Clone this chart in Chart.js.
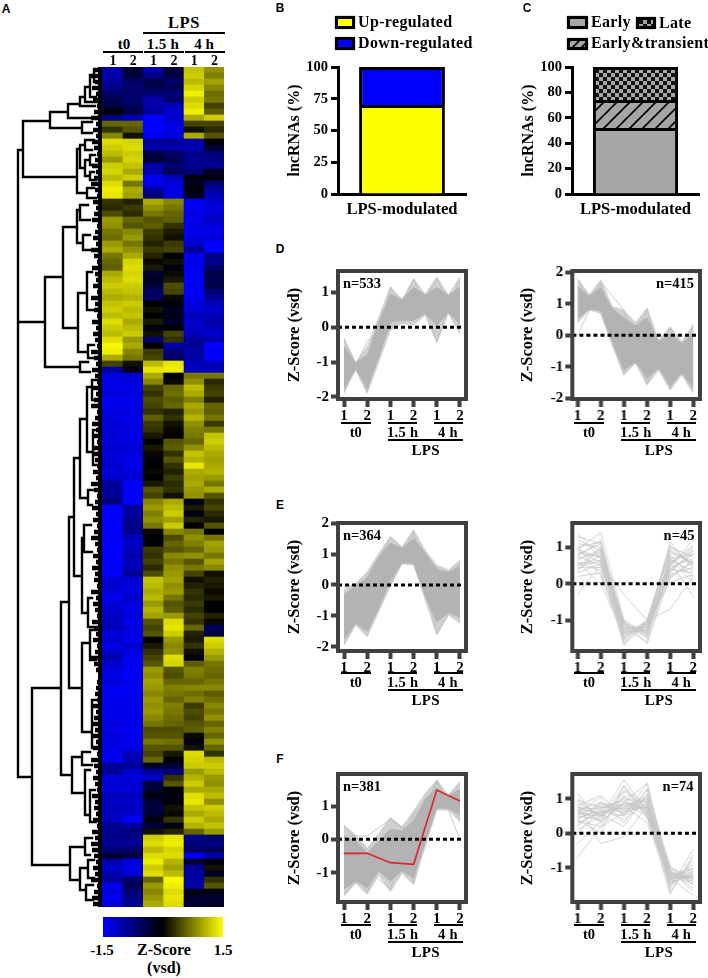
<!DOCTYPE html>
<html>
<head>
<meta charset="utf-8">
<script src="https://cdn.jsdelivr.net/npm/chart.js@4"></script>
<style>
  html, body { margin: 0; padding: 0; background: #fff; }
  #page { position: relative; width: 708px; height: 978px; overflow: hidden; font-family: "Liberation Serif", serif; font-weight: bold; color: #000; }
  canvas { position: absolute; }
  .txt { position: absolute; white-space: nowrap; transform: translate(-50%, -50%); line-height: 1; }
  .rule { position: absolute; height: 2px; background: #000; }
  .swatch { position: absolute; box-sizing: border-box; border: 3px solid #000; box-shadow: 0 0 1px #555; }
</style>
</head>
<body>
<div id="page"></div>
<script>
// heatmap values, one list per sample, top row first
const heatT0a = [
  -1.0,-1.0,-0.9,-0.8,-0.6,-0.5,-0.4,0.0,-0.8,0.6,
  0.3,0.8,1.3,1.2,1.1,0.9,1.2,1.25,1.1,1.3,
  1.4,1.35,0.3,0.25,0.45,0.9,0.85,0.7,0.65,0.9,
  1.0,0.7,0.6,0.55,1.0,1.1,1.2,1.1,1.0,1.15,
  1.2,1.1,1.3,1.2,1.1,1.3,1.45,1.4,1.0,0.4,
  -0.9,-1.3,-1.4,-1.35,-1.3,-1.4,-1.4,-1.3,-1.3,-1.25,
  -1.3,-1.25,-1.3,-1.2,-1.3,-1.25,-1.2,-1.3,-1.2,-0.9,
  -0.9,-0.85,-0.7,-1.5,-1.5,-1.45,-1.5,-1.5,-1.45,-1.5,
  -1.5,-1.45,-1.5,-1.45,-1.5,-1.25,-1.2,-1.3,-1.4,-1.25,
  -1.2,-1.15,-1.1,-1.1,-1.3,-1.2,-1.35,-1.2,-1.0,-1.2,
  -1.3,-1.35,-1.3,-1.4,-1.45,-1.4,-1.35,-1.4,-1.4,-1.3,
  -1.35,-1.3,-1.3,-1.35,-1.4,-1.4,-0.9,-0.9,-1.3,-1.2,
  -1.3,-1.1,-1.15,-1.1,-1.15,-1.1,-0.85,-0.8,-0.8,-0.9,
  -0.7,-0.3,-1.0,-1.2,-1.0,-0.9,-1.4,-1.3,-1.4,-1.3
];
const heatT0b = [
  -0.3,-0.35,-0.6,-0.65,-0.6,-0.65,-0.5,-0.4,-1.1,0.6,
  0.5,0.1,1.25,1.3,1.2,1.25,1.15,1.0,1.2,0.7,
  1.0,0.95,0.2,0.35,0.25,0.6,0.5,0.8,0.9,0.7,
  0.85,1.0,1.25,1.3,1.25,1.3,1.2,1.15,1.05,1.2,
  1.1,1.15,1.0,1.1,1.2,0.9,1.0,0.8,0.7,0.1,
  -0.1,-1.25,-1.3,-1.35,-1.3,-1.4,-1.35,-1.3,-1.4,-1.35,
  -1.3,-1.35,-1.3,-1.25,-1.3,-1.35,-1.4,-1.3,-1.25,-1.5,
  -1.5,-1.5,-1.5,-0.9,-0.95,-0.85,-0.8,-0.8,-1.1,-1.15,
  -1.1,-1.0,-1.1,-1.05,-0.85,-1.25,-1.3,-1.3,-1.2,-1.3,
  -1.35,-1.3,-1.4,-1.3,-1.35,-1.4,-1.2,-1.3,-1.4,-1.45,
  -1.45,-1.5,-1.4,-1.45,-1.4,-1.35,-1.4,-1.4,-1.35,-1.35,
  -1.4,-1.35,-1.4,-1.35,-1.1,-1.05,-0.9,-1.2,-1.3,-1.2,
  -1.25,-1.1,-1.2,-1.1,-1.2,-1.5,-0.9,-0.7,-0.8,-0.9,
  -0.6,-0.4,-1.3,-1.35,-1.25,-0.6,-0.5,-0.7,-0.8,-0.85
];
const heat15a = [
  -1.0,-0.8,-0.4,-0.5,-0.7,-1.0,-1.0,-0.9,-1.5,-1.5,
  -1.5,-1.4,-0.9,-1.0,-0.4,-0.3,-1.0,-1.05,-1.4,-1.4,
  -0.9,-0.7,1.0,0.85,0.7,0.5,0.55,0.35,0.3,0.2,
  0.35,0.2,0.05,0.15,-0.3,-0.2,-0.35,-0.6,-0.55,0.0,
  0.1,-0.05,0.15,-0.1,0.1,-0.6,0.0,0.35,0.4,1.1,
  1.35,1.0,0.8,0.4,0.3,0.45,0.4,0.3,0.55,0.35,
  0.3,0.15,0.0,0.15,0.05,-0.05,0.0,0.05,-0.05,0.15,
  0.5,0.4,0.8,0.9,0.75,0.85,0.7,0.05,-0.05,0.0,
  0.35,0.3,0.4,0.25,0.45,1.15,1.1,1.0,1.1,0.9,
  1.05,0.95,0.5,0.4,0.5,0.0,0.15,0.3,0.4,0.5,
  0.9,0.85,0.95,0.9,0.8,0.9,0.85,0.9,0.8,0.7,
  0.45,0.5,0.7,0.5,0.4,0.6,-0.2,-0.9,-1.2,-0.4,
  -0.3,-0.1,-0.3,-0.4,-0.3,-0.1,-0.35,0.1,1.2,1.3,
  1.1,1.3,1.4,1.2,1.3,0.6,0.9,0.8,0.9,1.0
];
const heat15b = [
  -0.35,-0.4,-0.6,-0.5,-0.7,-0.6,-1.1,-1.2,-1.2,-1.3,
  -1.35,-1.3,-0.9,-1.0,-0.6,-0.5,-0.7,-0.5,-1.1,-1.3,
  -1.35,-1.3,0.8,0.7,0.6,0.55,0.3,0.15,0.1,0.35,
  0.4,0.0,0.1,-0.1,0.05,0.15,0.45,0.4,0.05,-0.1,
  -0.2,-0.15,-0.25,-0.05,0.4,0.3,-1.0,-0.7,-0.6,1.35,
  1.4,0.0,0.05,0.6,0.65,0.55,0.6,0.2,0.3,0.1,
  0.05,0.0,0.5,0.55,0.3,0.5,0.3,0.2,0.35,0.25,
  0.3,0.1,1.0,1.1,1.2,0.95,1.2,0.8,0.45,0.6,
  0.5,0.8,0.7,0.85,0.9,0.95,0.85,0.9,0.7,0.5,
  0.55,0.9,1.3,1.35,1.2,0.9,0.8,0.85,1.3,1.25,
  0.5,0.45,0.6,0.75,0.7,0.6,0.75,0.7,0.65,0.6,
  0.45,0.5,0.65,0.5,0.15,0.0,-0.3,-0.7,0.3,0.5,
  0.0,-0.1,-0.05,0.1,0.05,0.3,-0.1,0.2,1.35,1.4,
  1.25,1.3,1.05,0.95,1.1,1.45,1.4,1.3,1.35,1.3
];
const heat4a = [
  1.15,1.2,1.1,1.25,1.4,1.2,1.3,1.4,1.0,0.4,
  0.1,1.0,-1.0,-1.05,-0.8,-0.85,-0.8,-0.7,-0.1,-0.15,
  -0.05,-0.2,-1.4,-1.45,-1.35,-1.4,-1.35,-1.4,-1.3,-1.2,
  -0.9,-1.4,-1.35,-1.4,-1.45,-1.5,-1.4,-1.45,-1.4,-1.3,
  -1.25,-1.1,-1.2,-1.15,-1.1,-0.9,-0.9,-1.0,-0.95,-1.1,
  -1.1,0.7,0.85,1.1,1.0,0.75,1.0,0.9,1.05,0.85,
  0.75,0.7,0.6,0.85,1.15,1.05,1.35,1.0,0.95,1.0,
  0.9,0.85,-0.1,0.15,-0.1,0.2,0.0,0.7,0.85,0.75,
  0.6,0.85,0.5,0.7,0.4,0.1,0.2,0.3,0.25,0.35,
  0.25,0.4,0.3,0.6,0.2,0.15,0.3,0.1,-0.1,0.55,
  0.75,0.7,0.6,0.8,0.65,0.75,0.35,0.45,0.4,0.5,
  0.55,0.05,-0.1,0.1,1.3,1.25,1.2,0.9,1.05,1.2,
  1.0,1.3,1.35,1.15,1.0,1.2,1.05,0.6,-0.8,-0.7,
  -0.6,-1.4,-0.3,-0.9,-0.95,-0.9,-1.0,-0.1,-0.25,-0.3
];
const heat4b = [
  0.85,0.75,0.95,0.8,0.65,0.7,0.4,0.55,1.2,0.4,
  0.25,0.5,-0.1,-0.3,-0.7,-0.8,-0.9,-0.2,-0.1,-0.7,
  -0.95,-1.1,-1.2,-1.3,-1.25,-1.15,-1.3,-1.35,-1.25,-1.5,
  -1.5,-0.8,-0.85,-0.6,-0.4,-0.5,-0.4,-0.7,-0.9,-1.1,
  -1.2,-1.1,-1.0,-1.1,-1.2,-1.05,-1.5,-1.45,-1.5,-1.1,
  -1.1,0.7,0.25,0.35,0.4,0.2,0.6,0.55,0.7,0.35,
  0.7,1.15,1.2,1.1,1.0,0.95,1.0,1.05,0.9,0.7,
  1.0,0.5,0.3,0.4,0.25,0.15,0.5,0.0,0.7,0.95,
  0.9,0.7,0.95,0.8,0.1,0.2,0.15,0.05,0.15,0.0,
  -0.05,0.2,0.05,-0.5,-0.4,1.3,1.2,1.05,0.9,0.7,
  0.65,0.6,0.7,0.8,0.55,0.65,0.8,0.7,0.85,0.6,
  0.75,0.6,0.85,0.6,0.3,1.1,1.2,1.1,0.9,0.85,
  1.0,1.1,0.85,1.2,1.1,1.0,1.15,0.9,-0.6,-0.8,
  -0.5,-1.0,-0.1,0.1,-0.2,0.3,0.5,-0.1,-0.3,-0.25
];
const colorbarStops = [-1.5,0,1.5];

// dendrogram merges: distance of the merge, the two child positions, the two child distances
const mergeDist  = [18,18,23,50,82,68,80,85,90,94,77,80,85,85,90,90,87,45,63,77,80,83,78,87,88,80,32,61,69,74,80,87,92,93,88,82,84,88,82,90,92,72,82,85,90,70,85,80,88,86];
const mergeTop   = [150,322,121,112,122,104,97,87,75,70,149,145,140,160,155,172,188,277,227,210,205,235,293,272,345,362,688,602,517,458,419,387,380,430,490,538,525,598,643,630,700,757,752,770,790,847,838,868,860,885];
const mergeBot   = [322,777,177,128,133,118,106,102,97,82,193,168,150,176,165,180,198,367,328,243,220,250,352,310,358,372,865,775,688,576,498,452,400,465,505,613,552,627,732,660,748,793,765,815,822,880,855,890,878,900];
const mergeTopTo = [23,18,50,68,92,80,85,90,94,97,80,85,94,90,95,94,94,63,77,80,88,90,87,92,94,88,61,69,74,80,87,92,97,97,94,84,91,92,90,97,97,82,90,90,95,85,92,88,94,93];
const mergeBotTo = [45,32,77,82,92,93,95,97,96,97,87,85,92,90,96,96,96,80,78,83,90,92,88,93,94,90,70,72,82,82,88,93,97,97,92,88,92,93,92,96,97,85,92,90,96,80,90,86,94,93];
// leaf spikes, one per heatmap row
const leafTips = [
  93,91,95,92,96,93,97,94,91,96,
  93,96,92,94,97,95,92,96,94,91,
  95,97,93,96,94,92,97,95,93,96,
  91,94,97,92,95,96,93,97,91,95,
  94,97,92,96,93,95,97,91,94,96,
  92,95,97,93,96,94,91,97,95,92,
  96,93,97,94,92,95,97,93,96,91,
  94,97,95,92,96,93,97,94,91,95,
  97,93,96,92,95,94,97,91,96,93,
  95,97,92,94,96,93,97,95,91,94,
  96,98,97,96,95,97,93,96,94,92,
  95,92,96,93,97,91,94,96,93,95,
  97,92,95,94,96,93,97,92,95,91,
  92,94,96,93,95,91,97,94,92,93
];
const leafBase = [100,100];
const leafSpan = [67,907];

// panels B and C
const regulatedUp = [70];
const regulatedDown = [30];
const classEarly = [52];
const classTransient = [22];
const classLate = [26];
const pctTicksB = [0,25,50,75,100];
const pctTicksC = [0,20,40,60,80,100];

// profile panels, x is sample position; band limits are also read half way between samples
const colX = [1,2,3,4,5,6];
const bandX = [1,1.5,2,2.5,3,3.5,4,4.5,5,5.5,6];
const sampleLabels = ['1','2','1','2','1','2'];

const d1Upper = [-0.3,-1.0,-0.55,0.3,1.17,0.8,1.4,0.95,1.45,0.93,1.45];
const d1Lower = [-1.9,-1.22,-1.9,-1.0,-0.08,0.1,0.07,0.35,-0.45,0.4,-0.2];
const d1CoreUp = [-0.55,-1.02,-0.8,0.15,0.95,0.8,1.15,0.93,1.15,0.92,1.15];
const d1CoreLow = [-1.75,-1.2,-1.75,-0.85,0.15,0.2,0.2,0.4,0.05,0.42,0.1];
const d1Lines = [[-0.35,-1.85,1.15,0.25,1.4,0.0],[-1.85,-0.4,0.1,1.38,-0.4,1.4],[-1.2,-1.0,-0.05,0.75,0.7,0.5],[-0.7,-1.5,0.9,0.3,1.0,0.3]];
const d2Upper = [1.8,1.28,1.76,0.91,0.8,0.41,0.86,-0.15,0.27,-0.2,0.35];
const d2Lower = [0.41,0.8,0.7,-0.3,-1.26,-0.89,-1.58,-1.1,-1.74,-1.26,-1.84];
const d2CoreUp = [1.55,1.25,1.5,0.85,0.55,0.3,0.55,-0.2,0.05,-0.25,0.05];
const d2CoreLow = [0.55,0.82,0.8,-0.2,-1.1,-0.85,-1.35,-1.05,-1.6,-1.2,-1.65];
const d2Lines = [[0.42,1.7,0.8,-1.55,0.25,-1.8],[1.78,0.7,-1.25,0.85,-1.7,0.3],[0.0,1.6,-0.3,-0.5,-1.0,-0.9]];
const e1Upper = [-0.16,0.05,0.43,1.03,1.57,1.24,1.8,1.13,0.65,0.49,0.81];
const e1Lower = [-1.95,-1.3,-1.68,-0.86,-0.05,0.68,0.65,-0.49,-1.62,-0.97,-1.24];
const e1CoreUp = [-0.3,-0.05,0.25,0.9,1.35,1.2,1.5,1.05,0.5,0.42,0.6];
const e1CoreLow = [-1.75,-1.25,-1.5,-0.75,0.15,0.72,0.7,-0.35,-1.2,-0.9,-1.05];
const e1Lines = [[-0.1,0.15,1.55,0.8,-0.2,0.7],[-1.9,-0.6,-0.02,1.75,-1.6,-0.3],[-0.7,-1.65,1.0,1.0,0.6,-1.2]];
const e2Lines = [
  [1.4,0.7,-1.7,-1.0,0.9,0.5],[1.2,0.9,-1.5,-1.1,0.7,0.8],[1.1,1.0,-1.4,-1.2,1.15,0.4],
  [1.0,1.15,-1.2,-1.3,0.6,0.9],[0.95,1.4,-1.0,-1.65,0.5,1.2],[0.9,0.6,-1.6,-1.05,0.85,0.6],
  [0.85,0.75,-1.3,-1.2,0.3,0.95],[0.8,1.1,-1.1,-1.4,0.65,0.35],[0.75,0.5,-1.45,-1.0,0.45,0.7],
  [0.7,0.85,-1.25,-1.15,0.95,0.55],[0.65,0.95,-1.05,-1.5,0.75,0.2],[0.6,0.35,-1.65,-1.1,0.25,0.45],
  [0.55,0.65,-1.35,-1.25,0.55,1.05],[0.5,0.9,-1.15,-1.35,0.35,0.85],[0.45,0.45,-1.2,-1.2,0.15,0.65],
  [0.4,0.8,-1.1,-1.45,0.8,0.1],[0.3,0.55,-1.3,-1.3,0.4,0.3],[0.2,0.3,-1.5,-1.05,0.05,0.25],
  [-0.3,0.55,-0.3,-1.0,-0.7,0.2],[1.3,1.1,-1.55,-1.0,1.0,0.75],[1.05,0.2,-1.25,-1.2,0.6,-0.35],
  [0.6,0.0,-1.4,-1.15,0.5,1.0],[0.95,0.7,-1.2,-1.6,0.2,0.6],[0.35,1.0,-1.1,-1.3,0.7,0.0],
  [0.75,1.2,-1.35,-1.1,1.05,0.5],[0.5,0.6,-1.0,-1.4,0.4,0.8]
];
const f1Upper = [0.43,0.13,-0.27,0.13,0.65,0.38,0.85,1.38,1.78,1.33,1.73];
const f1Lower = [-1.7,-1.32,-1.65,-1.07,-1.57,-1.02,-1.37,-0.22,0.88,0.88,0.53];
const f1CoreUp = [0.1,-0.05,-0.4,-0.05,0.3,0.25,0.55,1.2,1.55,1.3,1.5];
const f1CoreLow = [-1.5,-1.25,-1.45,-0.95,-1.25,-0.95,-1.15,-0.1,0.95,0.92,0.75];
const f1Lines = [[0.4,-0.3,0.65,0.05,1.75,0.6],[0.1,0.1,0.6,0.1,0.9,1.7],[-1.65,-0.9,-1.5,0.8,1.0,1.3],[-0.2,-1.6,0.2,-1.3,1.78,-0.02]];
const f1Red = [-0.42,-0.42,-0.7,-0.75,1.48,1.15];
const f2Lines = [
  [1.15,0.3,0.9,0.5,-1.75,-0.6],[0.9,0.5,1.55,0.6,-1.2,-1.3],[0.8,1.1,0.5,1.45,-1.4,-1.0],
  [0.75,0.7,1.0,0.9,-1.3,-1.8],[0.7,0.6,0.8,1.0,-1.1,-1.4],[0.65,0.9,0.6,0.8,-1.0,-1.5],
  [0.6,0.55,0.9,0.7,-1.5,-1.1],[0.55,0.8,0.7,1.1,-1.25,-1.3],[0.5,0.4,1.2,0.75,-1.35,-0.9],
  [0.45,0.65,0.65,0.85,-1.2,-1.25],[0.4,0.75,0.95,0.6,-1.15,-1.35],[0.3,0.6,0.75,0.95,-1.6,-0.45],
  [0.2,0.9,0.55,1.25,-0.95,-1.5],[0.1,0.5,1.05,0.55,-1.3,-1.2],[0.0,0.7,0.4,0.9,-1.45,-1.15],
  [-0.3,0.35,0.85,0.7,-1.1,-1.6],[-0.7,0.2,0.6,1.05,-1.25,-1.05],[0.85,-0.3,-0.1,0.8,-1.0,-1.3],
  [1.0,0.45,1.35,0.45,-1.4,-1.25],[0.6,1.05,0.3,1.3,-1.2,-1.4],[0.35,0.2,1.1,0.65,-1.5,-0.8],
  [0.75,0.55,0.2,1.15,-1.05,-1.7],[0.5,0.85,0.8,0.3,-1.3,-1.1],[0.65,0.35,1.25,0.85,-1.35,-1.2],
  [0.25,0.65,0.5,1.0,-1.15,-1.3],[0.95,0.75,0.7,0.75,-1.7,-0.7],[0.4,0.0,1.4,0.5,-1.25,-1.45],
  [0.55,0.5,0.9,1.45,-1.2,-1.0]
];

const page = document.getElementById('page');
Chart.defaults.animation = false;
Chart.defaults.responsive = false;
Chart.defaults.font.family = '"Liberation Serif", serif';
Chart.defaults.font.weight = 'bold';
Chart.defaults.color = '#000';
Chart.defaults.plugins.legend.display = false;
Chart.defaults.plugins.tooltip.enabled = false;

function addCanvas(left, top, width, height) {
    let canvas = document.createElement('canvas');
    canvas.width = width;
    canvas.height = height;
    canvas.style.left = left + 'px';
    canvas.style.top = top + 'px';
    canvas.style.width = width + 'px';
    canvas.style.height = height + 'px';
    page.appendChild(canvas);
    return canvas;
}

function addText(text, x, y, size, opts = {}) {
    let el = document.createElement('div');
    el.className = 'txt';
    el.textContent = text;
    el.style.left = x + 'px';
    el.style.top = y + 'px';
    el.style.fontSize = size + 'px';
    if (opts.family) el.style.fontFamily = opts.family;
    if (opts.spacing) el.style.letterSpacing = opts.spacing + 'px';
    if (opts.left) el.style.transform = 'translate(0, -50%)';
    page.appendChild(el);
}

function addRule(x1, x2, y) {
    let el = document.createElement('div');
    el.className = 'rule';
    el.style.left = x1 + 'px';
    el.style.width = (x2 - x1) + 'px';
    el.style.top = (y - 1) + 'px';
    page.appendChild(el);
}

function addSwatch(x1, y1, x2, y2, fill) {
    let el = document.createElement('div');
    el.className = 'swatch';
    el.style.left = x1 + 'px';
    el.style.top = y1 + 'px';
    el.style.width = (x2 - x1) + 'px';
    el.style.height = (y2 - y1) + 'px';
    el.style.background = fill;
    page.appendChild(el);
}

function zColor(z) {
    let v = Math.round(Math.min(Math.abs(z) / 1.5, 1) * 255);
    return z < 0 ? `rgb(0,0,${v})` : `rgb(${v},${v},0)`;
}

// keeps the plot box where it was set, tick labels may hang over its ends
function lockY(width) {
    return s => { s.width = width; s.paddingTop = 0; s.paddingBottom = 0; };
}

function lockX(height) {
    return s => { s.height = height; s.paddingLeft = 0; s.paddingRight = 0; };
}

// ---- panel A ----
const heatColumns = [heatT0a, heatT0b, heat15a, heat15b, heat4a, heat4b];
new Chart(addCanvas(102, 67, 122, 840), {
    type: 'bar',
    data: {
        labels: heatT0a.map((v, i) => i),
        datasets: heatColumns.map((col, c) => ({
            data: col.map(() => [c, c + 1]),
            backgroundColor: col.map(zColor),
            borderWidth: 0,
            barPercentage: 1,
            categoryPercentage: 1,
            grouped: false
        }))
    },
    options: {
        indexAxis: 'y',
        layout: { padding: 0 },
        scales: {
            x: { type: 'linear', min: 0, max: 6, display: false },
            y: { display: false }
        }
    }
});

let mergePoints = [];
mergeDist.forEach((d, i) => {
    mergePoints.push({ x: mergeTopTo[i], y: mergeTop[i] }, { x: d, y: mergeTop[i] },
        { x: d, y: mergeBot[i] }, { x: mergeBotTo[i], y: mergeBot[i] }, { x: null, y: null });
});
let tipPoints = [];
leafTips.forEach((tip, i) => {
    tipPoints.push({ x: tip, y: 70 + i * 6 }, { x: 102, y: 70 + i * 6 }, { x: null, y: null });
});
new Chart(addCanvas(0, 67, 102, 840), {
    type: 'scatter',
    data: {
        datasets: [
            { data: mergePoints, showLine: true, pointRadius: 0, borderColor: '#000', borderWidth: 2.4, borderCapStyle: 'square', clip: false },
            { data: tipPoints, showLine: true, pointRadius: 0, borderColor: '#000', borderWidth: 4.4 },
            { data: leafBase.map((x, i) => ({ x: x, y: leafSpan[i] })), showLine: true, pointRadius: 0, borderColor: '#000', borderWidth: 4 }
        ]
    },
    options: {
        layout: { padding: 0 },
        scales: {
            x: { type: 'linear', min: 0, max: 102, display: false },
            y: { type: 'linear', min: 67, max: 907, reverse: true, display: false }
        }
    }
});

let barCanvas = addCanvas(103, 917, 120, 20);
let barFill = barCanvas.getContext('2d').createLinearGradient(0, 0, 120, 0);
colorbarStops.forEach((z, i) => barFill.addColorStop(i / (colorbarStops.length - 1), zColor(z)));
new Chart(barCanvas, {
    type: 'bar',
    data: {
        labels: ['Z-Score'],
        datasets: [{
            data: [[colorbarStops[0], colorbarStops[colorbarStops.length - 1]]],
            backgroundColor: barFill,
            barPercentage: 1,
            categoryPercentage: 1
        }]
    },
    options: {
        indexAxis: 'y',
        layout: { padding: 0 },
        scales: { x: { type: 'linear', min: -1.5, max: 1.5, display: false }, y: { display: false } }
    }
});

addText('A', 6, 9, 12, { family: '"Liberation Sans", sans-serif' });
addText('LPS', 184, 23, 16.5, { spacing: 0.5 });
addRule(143, 225, 32.5);
addText('t0', 124, 44, 15);
addText('1.5 h', 163, 44, 15, { spacing: 0.3 });
addText('4 h', 204, 44, 15);
addRule(103, 143, 52);
addRule(144, 184, 52);
addRule(185, 225, 52);
['1', '2', '1', '2', '1', '2'].forEach((s, i) => addText(s, 113 + i * 20.3, 61, 14));
addText('-1.5', 102, 950, 15);
addText('Z-Score', 164, 950, 16);
addText('1.5', 223, 950, 15);
addText('(vsd)', 164, 968, 16);

// ---- panels B and C ----
function hatchTile(size) {
    let tile = document.createElement('canvas');
    tile.width = tile.height = size;
    let c = tile.getContext('2d');
    c.fillStyle = '#a6a6a6';
    c.fillRect(0, 0, size, size);
    c.strokeStyle = '#000';
    c.lineWidth = 1.6;
    c.beginPath();
    c.moveTo(-2, size + 2); c.lineTo(size + 2, -2);
    c.moveTo(-2, 2); c.lineTo(2, -2);
    c.moveTo(size - 2, size + 2); c.lineTo(size + 2, size - 2);
    c.stroke();
    return tile;
}

function checkerTile(cell) {
    let tile = document.createElement('canvas');
    tile.width = tile.height = cell * 2;
    let c = tile.getContext('2d');
    c.fillStyle = '#a6a6a6';
    c.fillRect(0, 0, cell * 2, cell * 2);
    c.fillStyle = '#111';
    c.fillRect(0, 0, cell, cell);
    c.fillRect(cell, cell, cell, cell);
    return tile;
}

function pctChart(left, yWidth, plotWidth, ticks, datasets) {
    return new Chart(addCanvas(left, 57, yWidth + plotWidth + 4, 167), {
        type: 'bar',
        data: { labels: ['LPS-modulated'], datasets: datasets },
        options: {
            layout: { padding: { top: 10, right: 4 } },
            datasets: { bar: { barPercentage: 0.67, categoryPercentage: 1, borderColor: '#000', borderWidth: 3, clip: false } },
            scales: {
                x: {
                    stacked: true,
                    afterFit: lockX(30),
                    border: { color: '#000', width: 3 },
                    grid: { display: false, drawTicks: false },
                    ticks: { font: { size: 16.5 }, padding: 6 }
                },
                y: {
                    stacked: true, min: 0, max: 100,
                    afterFit: lockY(yWidth),
                    afterBuildTicks: s => { s.ticks = ticks.map(v => ({ value: v })); },
                    border: { color: '#000', width: 3 },
                    grid: { drawOnChartArea: false, tickLength: 7, tickWidth: 3, tickColor: '#000' },
                    ticks: { font: { size: 14.5 }, padding: 3 },
                    title: { display: true, text: 'lncRNAs (%)', font: { size: 16 }, padding: 0 }
                }
            }
        }
    });
}

pctChart(285, 53, 128, pctTicksB, [
    { data: regulatedUp, backgroundColor: '#ffff00' },
    { data: regulatedDown, backgroundColor: '#0000ff' }
]);
let patCtx = document.createElement('canvas').getContext('2d');
pctChart(519, 53, 127, pctTicksC, [
    { data: classEarly, backgroundColor: '#a6a6a6' },
    { data: classTransient, backgroundColor: patCtx.createPattern(hatchTile(13), 'repeat') },
    { data: classLate, backgroundColor: patCtx.createPattern(checkerTile(4), 'repeat') }
]);

addText('B', 280, 8, 12, { family: '"Liberation Sans", sans-serif' });
addSwatch(335, 16, 355, 29, '#ffff00');
addText('Up-regulated', 358, 22, 16, { left: true, spacing: 0.35 });
addSwatch(335, 37, 355, 50, '#0000ff');
addText('Down-regulated', 358, 43, 16, { left: true, spacing: 0.35 });

addText('C', 527, 8, 12, { family: '"Liberation Sans", sans-serif' });
addSwatch(567, 16, 588, 29, '#a6a6a6');
addText('Early', 591, 22, 16, { left: true, spacing: 0.35 });
addSwatch(636, 17, 656, 29, `url(${checkerTile(4).toDataURL()})`);
addText('Late', 659, 23, 16, { left: true, spacing: 0.35 });
addSwatch(567, 38, 588, 50, `url(${hatchTile(9).toDataURL()})`);
addText('Early&transient', 591, 43, 16, { left: true, spacing: 0.35 });

// ---- panels D, E, F ----
const framePlugin = {
    id: 'frame',
    afterDatasetsDraw(chart) {
        let a = chart.chartArea;
        let c = chart.ctx;
        c.save();
        c.strokeStyle = '#404040';
        c.lineWidth = 4;
        c.strokeRect(a.left, a.top, a.right - a.left, a.bottom - a.top);
        c.restore();
    }
};

function bandEdge(values, color, fill) {
    let set = {
        data: values.map((v, i) => ({ x: bandX[i], y: v })),
        showLine: true, pointRadius: 0, borderColor: color, borderWidth: 0.8
    };
    if (fill) {
        set.fill = '+1';
        set.backgroundColor = color;
    }
    return set;
}

function profilePanel(p) {
    let xMin = p.plotLeft < 400 ? 0.74 : 0.77;
    let xMax = p.plotLeft < 400 ? 6.26 : 6.29;
    let col1 = p.plotLeft < 400 ? 344 : 577.3;
    let datasets = [{
        data: [{ x: xMin, y: 0 }, { x: xMax, y: 0 }],
        showLine: true, pointRadius: 0, borderColor: '#000', borderWidth: 3, borderDash: [4, 3]
    }];
    if (p.red) {
        datasets.push({
            data: p.red.map((v, i) => ({ x: colX[i], y: v })),
            showLine: true, pointRadius: 0, borderColor: '#e0222b', borderWidth: 1.6
        });
    }
    if (p.upper) {
        datasets.push(bandEdge(p.coreUp, '#b3b3b3', true), bandEdge(p.coreLow, '#b3b3b3'));
    }
    p.lines.forEach(line => {
        datasets.push({
            data: line.map((v, i) => ({ x: colX[i], y: v })),
            showLine: true, pointRadius: 0, borderColor: p.upper ? '#bdbdbd' : '#c6c6c6', borderWidth: 0.8
        });
    });
    if (p.upper) {
        datasets.push(bandEdge(p.upper, '#d0d0d0', true), bandEdge(p.lower, '#d0d0d0'));
    }
    let yWidth = p.plotLeft - p.left;
    new Chart(addCanvas(p.left, p.frameTop - 10, yWidth + p.plotWidth + 4, 168), {
        type: 'scatter',
        data: { datasets: datasets },
        options: {
            layout: { padding: { top: 10, right: 4 } },
            scales: {
                x: {
                    type: 'linear', min: xMin, max: xMax,
                    afterFit: lockX(30),
                    afterBuildTicks: s => { s.ticks = colX.map(v => ({ value: v })); },
                    border: { display: false },
                    grid: { drawOnChartArea: false, tickLength: 8, tickWidth: 4, tickColor: '#404040' },
                    ticks: { font: { size: 15 }, padding: 0, maxRotation: 0, autoSkip: false, callback: (v, i) => sampleLabels[i] }
                },
                y: {
                    type: 'linear', min: p.yMin, max: p.yMax,
                    afterFit: lockY(yWidth),
                    afterBuildTicks: s => { s.ticks = p.yTicks.map(v => ({ value: v })); },
                    border: { display: false },
                    grid: { drawOnChartArea: false, tickLength: 7, tickWidth: 4, tickColor: '#404040' },
                    ticks: { font: { size: 15 }, padding: 2, callback: v => String(v) },
                    title: { display: true, text: 'Z-Score (vsd)', font: { size: 16.5 }, padding: 0 }
                }
            }
        },
        plugins: [framePlugin]
    });
    addText(p.label, p.labelX, p.frameTop + 12, 14.5);

    let base = p.frameTop + p.under;
    addRule(col1 - 3.3, col1 + 26.7, base + 8);
    addRule(col1 + 44, col1 + 73, base + 8);
    addRule(col1 + 90, col1 + 119, base + 8);
    addRule(col1 + 44, col1 + 119, base + 25);
    addText('t0', col1 + 11.7, base + 17, 14.5);
    addText('1.5 h', col1 + 58.7, base + 17, 14.5, { spacing: 0.3 });
    addText('4 h', col1 + 104, base + 17, 14.5, { spacing: 0.3 });
    addText('LPS', col1 + 81.7, base + 35, 15, { spacing: 0.3 });
}

const leftSide = { left: 285, plotLeft: 338, plotWidth: 128 };
const rightSide = { left: 518, plotLeft: 572, plotWidth: 127.5 };

profilePanel({ ...leftSide, frameTop: 271, under: 144, yMin: -2.06, yMax: 1.62, yTicks: [-2,-1,0,1], upper: d1Upper, lower: d1Lower, coreUp: d1CoreUp, coreLow: d1CoreLow, lines: d1Lines, label: 'n=533', labelX: 362 });
profilePanel({ ...rightSide, frameTop: 271, under: 144, yMin: -2.02, yMax: 2.04, yTicks: [-2,-1,0,1,2], upper: d2Upper, lower: d2Lower, coreUp: d2CoreUp, coreLow: d2CoreLow, lines: d2Lines, label: 'n=415', labelX: 675 });
profilePanel({ ...leftSide, frameTop: 523, under: 142, yMin: -2.14, yMax: 2.01, yTicks: [-2,-1,0,1,2], upper: e1Upper, lower: e1Lower, coreUp: e1CoreUp, coreLow: e1CoreLow, lines: e1Lines, label: 'n=364', labelX: 362 });
profilePanel({ ...rightSide, frameTop: 523, under: 142, yMin: -1.85, yMax: 1.67, yTicks: [-1,0,1], lines: e2Lines, label: 'n=45', labelX: 679 });
profilePanel({ ...leftSide, frameTop: 774, under: 143, yMin: -1.88, yMax: 1.96, yTicks: [-1,0,1], upper: f1Upper, lower: f1Lower, coreUp: f1CoreUp, coreLow: f1CoreLow, lines: f1Lines, red: f1Red, label: 'n=381', labelX: 362 });
profilePanel({ ...rightSide, frameTop: 774, under: 143, yMin: -1.99, yMax: 1.72, yTicks: [-1,0,1], lines: f2Lines, label: 'n=74', labelX: 678 });

addText('D', 280, 249, 12, { family: '"Liberation Sans", sans-serif' });
addText('E', 280, 505, 12, { family: '"Liberation Sans", sans-serif' });
addText('F', 280, 759, 12, { family: '"Liberation Sans", sans-serif' });
</script>
</body>
</html>
